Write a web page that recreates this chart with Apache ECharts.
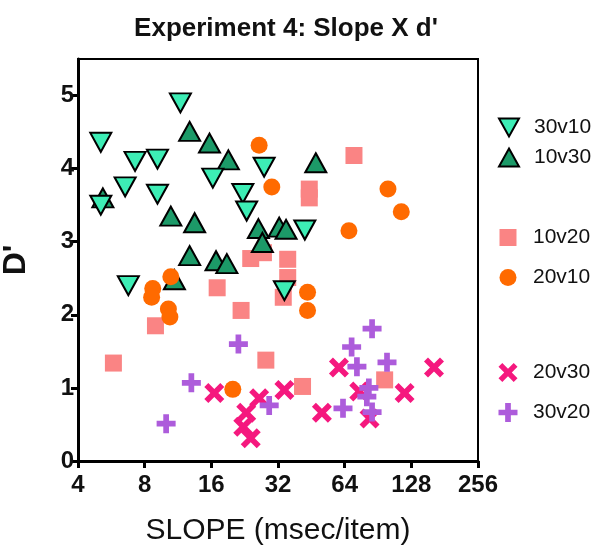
<!DOCTYPE html>
<html>
<head>
<meta charset="utf-8">
<script src="https://cdn.jsdelivr.net/npm/echarts@6/dist/echarts.min.js"></script>
<style>html,body{margin:0;padding:0;background:#fff}#c{width:604px;height:549px}</style>
</head>
<body>
<div id="c"></div>
<script>
// ---- data (x = slope msec/item, y = d') ----
const x30v10 = [11.6, 5.07, 7.24, 9.14, 6.53, 9.14, 5.07, 16.25, 22.2, 23.1, 27.7, 6.75, 42.3, 34.2];
const y30v10 = [4.9, 4.36, 4.10, 4.13, 3.75, 3.65, 3.50, 3.87, 3.66, 3.42, 4.02, 2.4, 3.16, 2.33];
const x10v30 = [12.77, 15.7, 19.1, 5.18, 10.5, 13.45, 26.1, 27.2, 12.77, 16.8, 18.8, 10.9, 47.4, 32.4, 34.8];
const y10v30 = [4.51, 4.35, 4.12, 3.60, 3.35, 3.26, 3.18, 2.99, 2.81, 2.74, 2.70, 2.48, 4.08, 3.2, 3.17];
const x10v20 = [5.78, 8.95, 17.0, 21.8, 24.1, 27.5, 28.2, 35.4, 35.4, 33.8, 44.3, 44.3, 70.5, 41.3, 97];
const y10v20 = [1.34, 1.85, 2.37, 2.06, 2.77, 2.85, 1.38, 2.76, 2.51, 2.24, 3.72, 3.6, 4.18, 1.02, 1.11];
const x20v10 = [26.3, 30.0, 10.5, 8.7, 8.6, 10.24, 10.4, 20.0, 100.4, 115.3, 66.9, 43.5, 43.5];
const y20v10 = [4.32, 3.75, 2.52, 2.36, 2.24, 2.08, 1.97, 0.98, 3.72, 3.41, 3.15, 2.31, 2.06];
const x20v30 = [16.5, 22.3, 23.0, 24.1, 26.3, 34.2, 50.5, 60.3, 74.5, 82.9, 119.3, 162];
const y20v30 = [0.93, 0.47, 0.66, 0.31, 0.86, 0.97, 0.66, 1.28, 0.95, 0.58, 0.93, 1.28];
const x30v20 = [10, 13, 21.2, 29.2, 62.9, 68.8, 72.7, 80.6, 82.3, 85.1, 85.1, 99.4];
const y30v20 = [0.51, 1.07, 1.6, 0.76, 0.72, 1.56, 1.29, 0.88, 1.0, 0.67, 1.81, 1.35];
const xTicks = [4, 8, 16, 32, 64, 128, 256];
const yTicks = [0, 1, 2, 3, 4, 5];
const titleText = "Experiment 4: Slope X d'";
const xName = "SLOPE (msec/item)";
const yName = "D'";

const FONT = "'Liberation Sans', Arial, sans-serif";
const SYM = {
  down: 'path://M0,0 L20,0 L10,18 Z',
  up: 'path://M10,0 L20,18 L0,18 Z',
  square: 'path://M0,0 L10,0 L10,10 L0,10 Z',
  cross: 'path://M4,0 L10,6 L16,0 L20,4 L14,10 L20,16 L16,20 L10,14 L4,20 L0,16 L6,10 L0,4 Z',
  plus: 'path://M7,0 L13,0 L13,7 L20,7 L20,13 L13,13 L13,20 L7,20 L7,13 L0,13 L0,7 L7,7 Z'
};
function pts(xs, ys) { return xs.map((x, i) => [x, ys[i]]); }

const seriesDefs = [
  {name: '10v20', xs: x10v20, ys: y10v20, symbol: SYM.square, size: [17, 17], style: {color: '#FA8484'}},
  {name: '10v30', xs: x10v30, ys: y10v30, symbol: SYM.up, size: [21, 19], style: {color: '#1C9A68', borderColor: '#000', borderWidth: 2}},
  {name: '30v10', xs: x30v10, ys: y30v10, symbol: SYM.down, size: [21, 19], style: {color: '#3DEDB5', borderColor: '#000', borderWidth: 2}},
  {name: '20v10', xs: x20v10, ys: y20v10, symbol: 'circle', size: 17, style: {color: '#FF6A00'}},
  {name: '20v30', xs: x20v30, ys: y20v30, symbol: SYM.cross, size: [20, 20], style: {color: '#F5187E'}},
  {name: '30v20', xs: x30v20, ys: y30v20, symbol: SYM.plus, size: [19, 19], style: {color: '#AD5CDB'}}
];

const legendRows = [
  {name: '30v10', icon: SYM.down, cy: 127, w: 20, h: 18},
  {name: '10v30', icon: SYM.up, cy: 157, w: 20, h: 18},
  {name: '10v20', icon: SYM.square, cy: 237, w: 17, h: 17},
  {name: '20v10', icon: 'circle', cy: 277, w: 17, h: 17},
  {name: '20v30', icon: SYM.cross, cy: 372, w: 19, h: 19},
  {name: '30v20', icon: SYM.plus, cy: 412, w: 19, h: 19}
];

const chart = echarts.init(document.getElementById('c'), null, {renderer: 'canvas'});
chart.setOption({
  animation: false,
  backgroundColor: '#fff',
  title: {
    text: titleText, left: 281, top: 11, textAlign: 'center',
    textStyle: {fontFamily: FONT, fontSize: 26, fontWeight: 'bold', color: '#111'}
  },
  grid: {left: 78, right: 126, top: 59, bottom: 88, show: true, borderColor: '#000', borderWidth: 2,
    backgroundColor: 'transparent', containLabel: false, outerBoundsMode: 'none'},
  legend: legendRows.map(r => ({
    data: [{name: r.name, icon: r.icon}],
    left: 508 - r.w / 2, top: r.cy - 10, itemWidth: r.w, itemHeight: r.h, padding: 0,
    selectedMode: false,
    textStyle: {fontFamily: FONT, fontSize: 21, color: '#111', padding: [0, 0, 0, 20 - r.w / 2]}
  })),
  xAxis: {
    type: 'log', logBase: 2, min: 4, max: 256, interval: 1,
    name: xName, nameLocation: 'middle', nameGap: 55,
    nameTextStyle: {fontFamily: FONT, fontSize: 30, color: '#111'},
    axisLine: {lineStyle: {color: '#000', width: 3}},
    axisTick: {show: true, inside: false, length: 7, lineStyle: {color: '#000', width: 3}},
    axisLabel: {fontFamily: FONT, fontSize: 24, fontWeight: 'bold', color: '#111', margin: 12,
      formatter: v => String(Math.round(v)), showMinLabel: true, showMaxLabel: true},
    splitLine: {show: false}
  },
  yAxis: {
    type: 'value', min: 0, max: 5.5,
    name: yName, nameLocation: 'middle', nameGap: 46, nameRotate: 90,
    nameTextStyle: {fontFamily: FONT, fontSize: 32, fontWeight: 'bold', color: '#111'},
    axisLine: {show: true, lineStyle: {color: '#000', width: 3}},
    axisTick: {show: true, length: 7, lineStyle: {color: '#000', width: 3}, customValues: yTicks},
    axisLabel: {fontFamily: FONT, fontSize: 24, fontWeight: 'bold', color: '#111', margin: 4, customValues: yTicks},
    splitLine: {show: false}
  },
  series: seriesDefs.map(s => ({
    type: 'scatter', name: s.name, data: pts(s.xs, s.ys),
    symbol: s.symbol, symbolSize: s.size, itemStyle: Object.assign({opacity: 1}, s.style),
    emphasis: {disabled: true}
  }))
});
</script>
</body>
</html>
